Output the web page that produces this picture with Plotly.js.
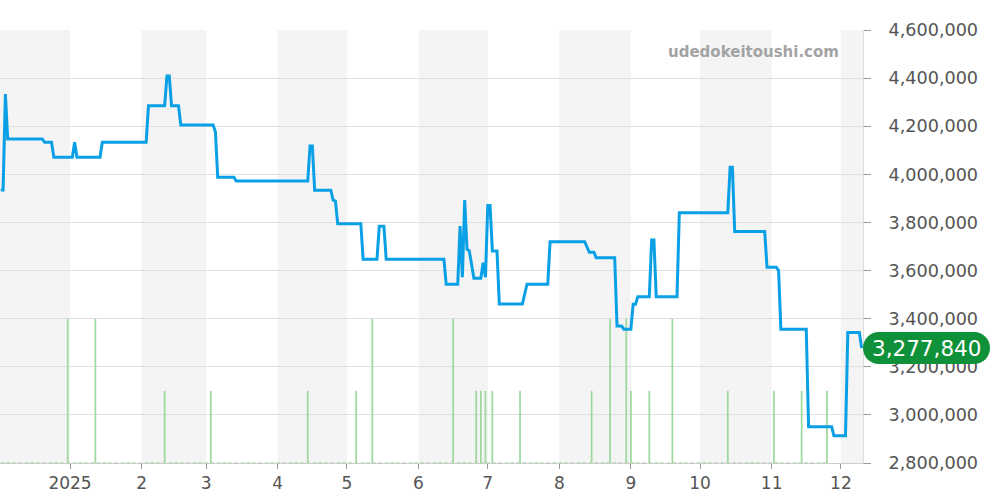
<!DOCTYPE html>
<html>
<head>
<meta charset="utf-8">
<script src="https://cdn.plot.ly/plotly-3.0.1.min.js"></script>
<style>html,body{margin:0;padding:0;background:#fff;}#chart{width:1000px;height:500px;}</style>
</head>
<body>
<div id="chart"></div>
<script>
// Price series (vertices of the daily price line)
var priceDates = [
  '2024-12-02','2024-12-03','2024-12-04','2024-12-05',
  '2024-12-20','2024-12-21','2024-12-24','2024-12-25',
  '2025-01-02','2025-01-03','2025-01-04',
  '2025-01-14','2025-01-15',
  '2025-02-03','2025-02-04',
  '2025-02-11','2025-02-12','2025-02-13','2025-02-14',
  '2025-02-17','2025-02-18',
  '2025-03-04','2025-03-05','2025-03-06',
  '2025-03-13','2025-03-14',
  '2025-04-14','2025-04-15','2025-04-16','2025-04-17',
  '2025-04-24','2025-04-25','2025-04-26','2025-04-27',
  '2025-05-07','2025-05-08',
  '2025-05-14','2025-05-15','2025-05-17','2025-05-18',
  '2025-06-12','2025-06-13',
  '2025-06-18','2025-06-19','2025-06-20','2025-06-21','2025-06-22','2025-06-23','2025-06-25',
  '2025-06-28','2025-06-29','2025-06-30','2025-07-01','2025-07-02','2025-07-03',
  '2025-07-05','2025-07-06',
  '2025-07-16','2025-07-18',
  '2025-07-27','2025-07-28',
  '2025-08-12','2025-08-14','2025-08-16','2025-08-17',
  '2025-08-25','2025-08-26','2025-08-28','2025-08-29',
  '2025-09-01','2025-09-02','2025-09-03','2025-09-04',
  '2025-09-09','2025-09-10','2025-09-11','2025-09-12',
  '2025-09-21','2025-09-22',
  '2025-10-13','2025-10-14','2025-10-15','2025-10-16',
  '2025-10-29','2025-10-30','2025-11-03','2025-11-04','2025-11-05',
  '2025-11-16','2025-11-17',
  '2025-11-27','2025-11-28',
  '2025-12-03','2025-12-04',
  '2025-12-09','2025-12-10'
];
var priceValues = [
  3935000,3935000,4334000,4147000,
  4147000,4133000,4133000,4071000,
  4071000,4133000,4071000,
  4071000,4133000,
  4133000,4285000,
  4285000,4409000,4409000,4285000,
  4285000,4205000,
  4205000,4177000,3988000,
  3988000,3972000,
  3972000,4118000,4118000,3934000,
  3934000,3893000,3889000,3795000,
  3795000,3647000,
  3647000,3784000,3784000,3647000,
  3647000,3543000,
  3543000,3785000,3572000,3893000,3688000,3682000,3568000,
  3568000,3633000,3572000,3870000,3870000,3681000,
  3681000,3461000,
  3461000,3543000,
  3543000,3720000,
  3720000,3676000,3676000,3653000,
  3653000,3369000,3369000,3356000,
  3356000,3460000,3460000,3491000,
  3491000,3727000,3727000,3491000,
  3491000,3840000,
  3840000,4029000,4029000,3762000,
  3762000,3614000,3614000,3600000,3356000,
  3356000,2951000,
  2951000,2913000,
  2913000,3343000,
  3343000,3277840
];

// Transaction counts (green bars)
var volDates = ['2024-12-31','2025-01-12','2025-02-11','2025-03-03','2025-04-14','2025-05-05','2025-05-12',
  '2025-06-16','2025-06-26','2025-06-28','2025-06-30','2025-07-03','2025-07-15','2025-08-15','2025-08-23',
  '2025-08-30','2025-09-01','2025-09-09','2025-09-19','2025-10-13','2025-11-02','2025-11-14','2025-11-25'];
var volCounts = [2,2,1,1,1,1,2,2,1,1,1,1,1,1,2,2,1,1,2,1,1,1,1];

// Month boundaries and tick labels
var monthStarts = ['2024-12-01','2025-01-01','2025-02-01','2025-03-01','2025-04-01','2025-05-01','2025-06-01',
  '2025-07-01','2025-08-01','2025-09-01','2025-10-01','2025-11-01','2025-12-01','2026-01-01'];
var tickVals = monthStarts.slice(1, 13);
var tickText = ['2025','2','3','4','5','6','7','8','9','10','11','12'];

var priceRange = [2800000, 4600000];
var xRange = ['2024-12-01 16:00', '2025-12-10 14:00'];

var FONT = 'DejaVu Sans, Liberation Sans, sans-serif';

var shapes = [];
for (var i = 0; i < monthStarts.length - 1; i += 2) {
  shapes.push({type:'rect', xref:'x', yref:'paper', x0:monthStarts[i], x1:monthStarts[i+1], y0:0, y1:1,
    fillcolor:'#f4f4f4', line:{width:0}, layer:'below'});
}

var lastVal = priceValues[priceValues.length - 1];
var lastPaperY = (lastVal - priceRange[0]) / (priceRange[1] - priceRange[0]);
// pill for last value
shapes.push({
  type:'path', xref:'paper', yref:'paper', xsizemode:'pixel', ysizemode:'pixel',
  xanchor:1, yanchor:lastPaperY,
  path:'M16,-16 L111,-16 C120,-16 127,-9 127,0 C127,9 120,16 111,16 L16,16 C7,16 0,9 0,0 C0,-9 7,-16 16,-16 Z',
  fillcolor:'#0f9139', line:{width:0}, layer:'above'
});

var traces = [
  {type:'bar', x:volDates, y:volCounts, xaxis:'x', yaxis:'y',
   marker:{color:'#9dd99d', line:{width:0}}, width:0.75*86400000, hoverinfo:'skip'},
  {type:'scatter', mode:'lines', x:[priceDates[0], volDates[volDates.length-1]], y:[0,0], xaxis:'x', yaxis:'y',
   line:{color:'#9dd99d', width:1.5, dash:'dot'}, hoverinfo:'skip'},
  {type:'scatter', mode:'lines', x:priceDates, y:priceValues, xaxis:'x', yaxis:'y2',
   line:{color:'#0aa0e6', width:3}, hoverinfo:'skip'}
];

var layout = {
  width:1000, height:500,
  margin:{l:0, r:137, t:30, b:37, pad:0},
  paper_bgcolor:'#ffffff', plot_bgcolor:'rgba(0,0,0,0)',
  showlegend:false, hovermode:false,
  font:{family:FONT, color:'#555', size:17},
  xaxis:{type:'date', range:xRange, tickvals:tickVals, ticktext:tickText,
    ticks:'outside', ticklen:5, tickcolor:'#999', showgrid:false, showline:true, linecolor:'#ccc',
    zeroline:false, tickfont:{family:FONT, size:17, color:'#555'}},
  yaxis:{range:[0,6], visible:false, showgrid:false, zeroline:false, fixedrange:true},
  yaxis2:{overlaying:'y', side:'right', range:priceRange, dtick:200000, tickformat:',d',
    ticks:'outside', ticklen:7, tickcolor:'#999', showgrid:true, gridcolor:'#e0e0e0', gridwidth:1,
    showline:true, linecolor:'#ddd', zeroline:false, ticklabelstandoff:14,
    tickfont:{family:FONT, size:17.6, color:'#555'}},
  shapes:shapes,
  annotations:[
    {xref:'paper', yref:'paper', x:0.974, y:0.949, xanchor:'right', yanchor:'middle', showarrow:false,
     text:'udedokeitoushi.com', font:{family:FONT, size:15, color:'#a3a3a3', weight:'bold'}},
    {xref:'paper', yref:'paper', x:1, y:lastPaperY, xanchor:'center', yanchor:'middle', xshift:63.5, showarrow:false,
     text:lastVal.toLocaleString('en-US'), font:{family:FONT, size:21.5, color:'#ffffff'}}
  ]
};

Plotly.newPlot('chart', traces, layout, {displayModeBar:false, staticPlot:true});
</script>
</body>
</html>
